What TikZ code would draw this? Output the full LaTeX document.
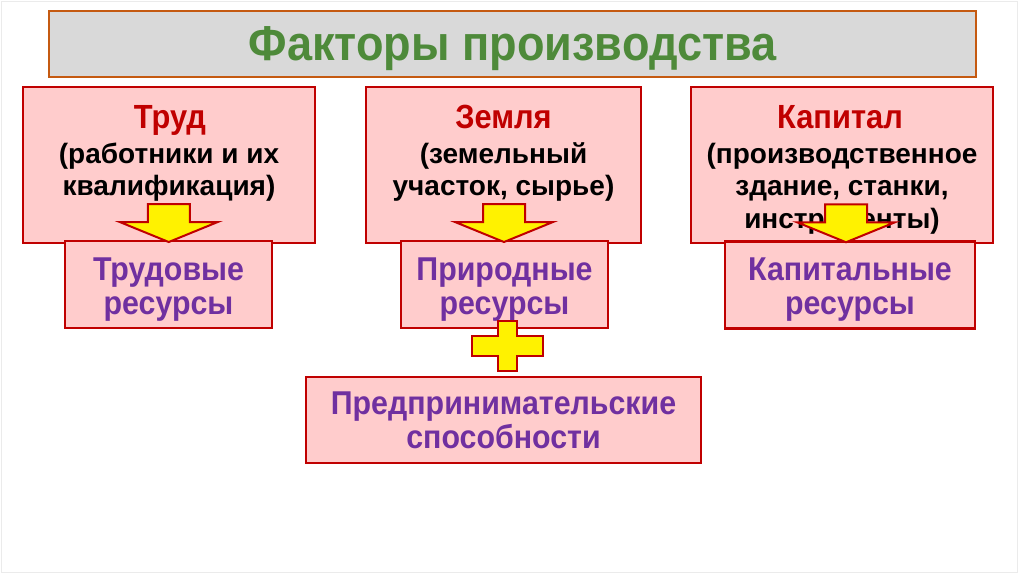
\documentclass[tikz,border=0pt]{standalone}
\usepackage{fontspec}
\setmainfont{Liberation Sans}
\newfontfamily\narrowfont[FakeStretch=0.92]{Liberation Sans}
\usetikzlibrary{calc}
\definecolor{titleGray}{HTML}{D9D9D9}
\definecolor{titleEdge}{HTML}{C55A11}
\definecolor{titleGreen}{HTML}{4E8A3A}
\definecolor{boxPink}{HTML}{FFCCCC}
\definecolor{boxRed}{HTML}{C00000}
\definecolor{resPurple}{HTML}{7030A0}
\begin{document}
\begin{tikzpicture}[
  x=1pt,
  y=-1pt,
  title box/.style={
    draw=titleEdge,
    line width=2.8pt,
    fill=titleGray,
    inner sep=0pt
  },
  factor box/.style={
    draw=boxRed,
    line width=2.8pt,
    fill=boxPink,
    inner sep=0pt
  },
  head text/.style={anchor=base, inner sep=0pt, text=boxRed,
    font=\narrowfont\fontsize{33.5}{38}\selectfont\bfseries},
  sub text/.style={anchor=base, inner sep=0pt, text=black,
    font=\fontsize{28}{32}\selectfont\bfseries},
  res text/.style={anchor=base, inner sep=0pt, text=resPurple,
    font=\narrowfont\fontsize{33}{38}\selectfont\bfseries},
  block arrow/.style={draw=boxRed, line width=2pt, fill=yellow, line join=miter}
]
  \useasboundingbox (0,0) rectangle (1024,574);
  \draw[black!8, line width=1pt] (1,1) rectangle (1017,572);

  % title
  \node[title box, minimum width=927pt, minimum height=66pt] (title) at (512.5,44) {};
  \node[anchor=base, inner sep=0pt, text=titleGreen,
    font=\narrowfont\fontsize{49}{58}\selectfont\bfseries] (titleText) at (512.5,60) {Факторы производства};

  % factors
  \node[factor box, minimum width=292pt, minimum height=156pt] (trudBox) at (169,165) {};
  \node[factor box, minimum width=275pt, minimum height=156pt] (zemlyaBox) at (503.5,165) {};
  \node[factor box, minimum width=302pt, minimum height=156pt] (kapitalBox) at (842,165) {};

  \node[head text] (trudHead) at (170,128) {Труд};
  \node[head text] (zemlyaHead) at (503.5,128) {Земля};
  \node[head text] (kapitalHead) at (840,128) {Капитал};

  \foreach [count=\row from 0] \subLine in {{(работники и их}, квалификация)} {
    \node[sub text] (trudSub\row) at (169,163+\row*32) {\subLine};
  }
  \foreach [count=\row from 0] \subLine in {{(земельный}, {участок, сырье)}} {
    \node[sub text] (zemlyaSub\row) at (503.5,163+\row*32) {\subLine};
  }
  \foreach [count=\row from 0] \subLine in {{(производственное}, {здание, станки,}, инструменты)} {
    \node[sub text] (kapitalSub\row) at (842,163+\row*32.5) {\subLine};
  }

  % resources
  \node[factor box, minimum width=207pt, minimum height=87pt] (trudRes) at (168.5,284.5) {};
  \node[factor box, minimum width=207pt, minimum height=87pt] (zemlyaRes) at (504.5,284.5) {};
  \node[factor box, minimum width=250pt, minimum height=87pt] (kapitalRes) at (850,285) {};
  \node[factor box, minimum width=395pt, minimum height=86pt] (entRes) at (503.5,420) {};

  \foreach [count=\row from 0] \resLine in {Трудовые, ресурсы} {
    \node[res text] (trudResText\row) at (168.5,280+\row*34) {\resLine};
  }
  \foreach [count=\row from 0] \resLine in {Природные, ресурсы} {
    \node[res text] (zemlyaResText\row) at (504.5,280+\row*34) {\resLine};
  }
  \foreach [count=\row from 0] \resLine in {Капитальные, ресурсы} {
    \node[res text] (kapitalResText\row) at (850,280+\row*34) {\resLine};
  }
  \foreach [count=\row from 0] \resLine in {Предпринимательские, способности} {
    \node[res text] (entResText\row) at (503.5,414+\row*34) {\resLine};
  }

  % arrows
  \foreach \src/\dst in {trudBox/trudRes, zemlyaBox/zemlyaRes, kapitalBox/kapitalRes} {
    \coordinate (tip) at ($(\src.south)!.5!(\dst.north)$);
    \draw[block arrow, shift={(tip)}]
      (0,0) -- (49,-20) -- (21,-20) -- (21,-38) -- (-21,-38) -- (-21,-20) -- (-49,-20) -- cycle;
  }

  % plus
  \coordinate (plusMid) at ($(zemlyaRes.south)!.5!(entRes.north)+(3,-7)$);
  \draw[block arrow, shift={(plusMid)}]
    (-9.5,-25) -- (9.5,-25) -- (9.5,-10) -- (35.5,-10) -- (35.5,10) -- (9.5,10)
    -- (9.5,25) -- (-9.5,25) -- (-9.5,10) -- (-35.5,10) -- (-35.5,-10) -- (-9.5,-10) -- cycle;
\end{tikzpicture}
\end{document}
